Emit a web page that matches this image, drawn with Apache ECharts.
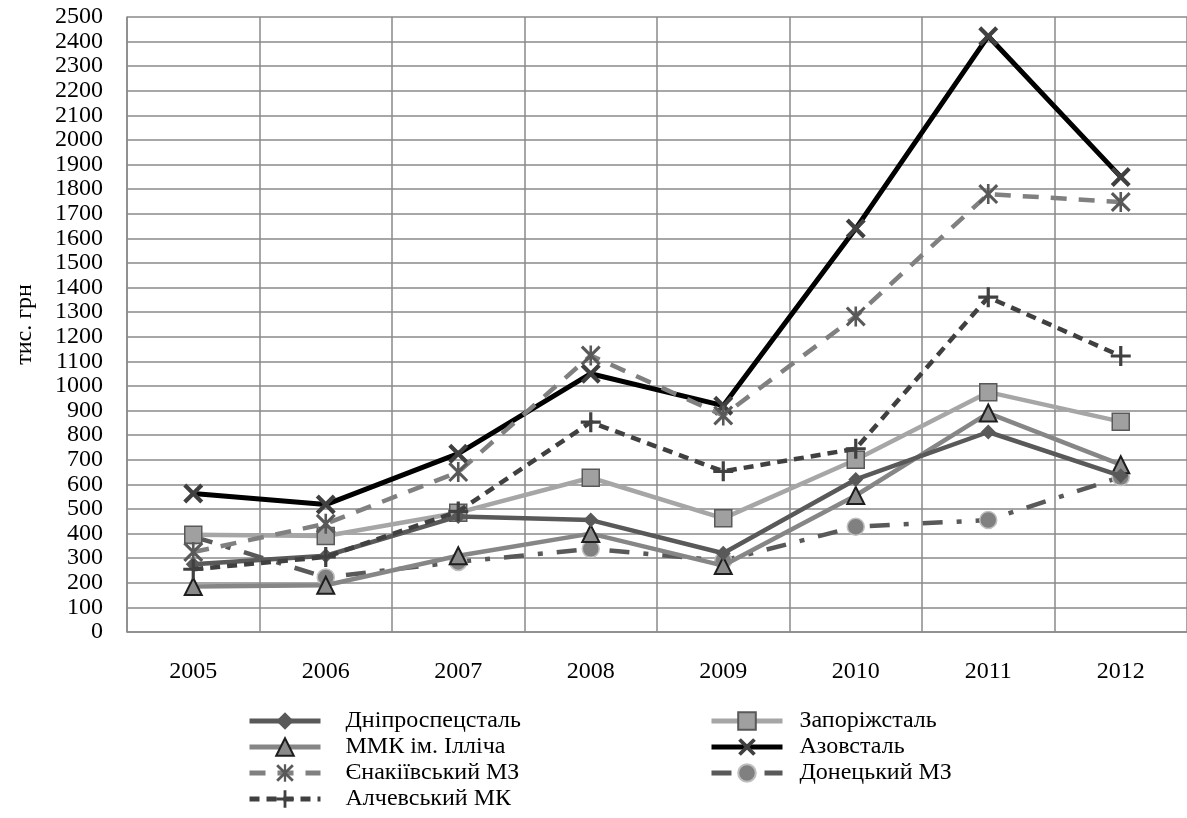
<!DOCTYPE html>
<html>
<head>
<meta charset="utf-8">
<script src="https://cdn.jsdelivr.net/npm/echarts@6/dist/echarts.min.js"></script>
<style>
html,body{margin:0;padding:0;background:#fff;}
#chart{width:1187px;height:818px;}
</style>
</head>
<body>
<div id="chart"></div>
<script>
const years = ['2005','2006','2007','2008','2009','2010','2011','2012'];
const dnipro   = [275, 310, 470, 455, 320, 620, 813, 635];
const zapor    = [395, 390, 485, 627, 462, 700, 975, 855];
const mmk      = [185, 190, 310, 400, 270, 555, 890, 680];
const azov     = [563, 518, 725, 1050, 920, 1640, 2422, 1850];
const yenak    = [325, 440, 650, 1124, 880, 1283, 1780, 1748];
const donetsk  = [388, 222, 285, 338, 290, 428, 455, 630];
const alchevsk = [255, 305, 490, 853, 653, 745, 1361, 1122];
const names = ['Дніпроспецсталь','Запоріжсталь','ММК ім. Ілліча','Азовсталь','Єнакіївський МЗ','Донецький МЗ','Алчевський МК'];
const yAxisName = 'тис. грн';

const FONT = '"Liberation Serif", "Times New Roman", serif';
const X_PATH = 'path://M0,1.5 L1.5,0 L5,3.5 L8.5,0 L10,1.5 L6.5,5 L10,8.5 L8.5,10 L5,6.5 L1.5,10 L0,8.5 L3.5,5 Z';
const PLUS_PATH = 'path://M4.2,0 L5.8,0 L5.8,4.2 L10,4.2 L10,5.8 L5.8,5.8 L5.8,10 L4.2,10 L4.2,5.8 L0,5.8 L0,4.2 L4.2,4.2 Z';
const AST_PATH = 'path://M0,1.1 L1.1,0 L5,3.9 L8.9,0 L10,1.1 L6.1,5 L10,8.9 L8.9,10 L5,6.1 L1.1,10 L0,8.9 L3.9,5 Z M4.35,0 L5.65,0 L5.65,10 L4.35,10 Z';

function mk(name, data, lineColor, lineType, width, symbol, size, fill, border, bw, z) {
  return {
    name: name, type: 'line', data: data, z: z,
    symbol: symbol, symbolSize: size,
    lineStyle: {color: lineColor, width: width, type: lineType},
    itemStyle: {color: fill, borderColor: border, borderWidth: bw},
    emphasis: {disabled: true}
  };
}

const legendText = {color: '#000', fontFamily: FONT, fontSize: 24, lineHeight: 24};

const chart = echarts.init(document.getElementById('chart'));
chart.setOption({
  animation: false,
  backgroundColor: '#fff',
  grid: {left: 127, top: 17, right: 0, bottom: 186, containLabel: false},
  xAxis: {
    type: 'category', data: years, boundaryGap: true,
    axisLine: {show: true, lineStyle: {color: '#8a8a8a', width: 1.5}},
    axisTick: {show: false},
    axisLabel: {color: '#000', fontFamily: FONT, fontSize: 24, margin: 28},
    splitLine: {show: true, lineStyle: {color: '#8a8a8a', width: 1.5}}
  },
  yAxis: {
    type: 'value', min: 0, max: 2500, interval: 100,
    name: yAxisName, nameLocation: 'middle', nameRotate: 90, nameGap: 90,
    nameTextStyle: {color: '#000', fontFamily: FONT, fontSize: 24},
    axisLine: {show: true, lineStyle: {color: '#8a8a8a', width: 1.5}},
    axisTick: {show: false},
    axisLabel: {color: '#000', fontFamily: FONT, fontSize: 24, margin: 24,
                formatter: function (v) { return String(v); }},
    splitLine: {show: true, lineStyle: {color: '#8a8a8a', width: 1.5}}
  },
  legend: [
    {
      data: [names[0], names[2], names[4], names[6]],
      orient: 'vertical', left: 247, top: 709, height: 108, padding: 0,
      itemWidth: 71, itemHeight: 22, itemGap: 2,
      lineStyle: {width: 5},
      textStyle: Object.assign({padding: [0,0,0,20]}, legendText)
    },
    {
      data: [names[1], names[3], names[5]],
      orient: 'vertical', left: 709, top: 709, height: 108, padding: 0,
      itemWidth: 71, itemHeight: 22, itemGap: 2,
      lineStyle: {width: 5},
      textStyle: Object.assign({padding: [0,0,0,12]}, legendText)
    }
  ],
  series: [
    mk(names[0], dnipro, '#595959', 'solid', 4.5, 'diamond', 15, '#595959', '#595959', 0, 5),
    mk(names[1], zapor, '#a6a6a6', 'solid', 4.5, 'rect', 17, '#a0a0a0', '#595959', 1.5, 4),
    mk(names[2], mmk, '#868686', 'solid', 4.5, 'triangle', 17, '#8a8a8a', '#1e1e1e', 2, 3),
    mk(names[3], azov, '#000000', 'solid', 5, X_PATH, 20, '#404040', '#404040', 0, 6),
    mk(names[4], yenak, '#808080', [16, 12], 4.5, AST_PATH, 20, '#595959', '#595959', 0, 7),
    mk(names[5], donetsk, '#595959', [20, 14, 5, 14], 4.5, 'circle', 17, '#808080', '#bfbfbf', 1.5, 2),
    mk(names[6], alchevsk, '#404040', [10, 7], 4.5, PLUS_PATH, 20, '#404040', '#404040', 0, 8)
  ]
});
</script>
</body>
</html>
